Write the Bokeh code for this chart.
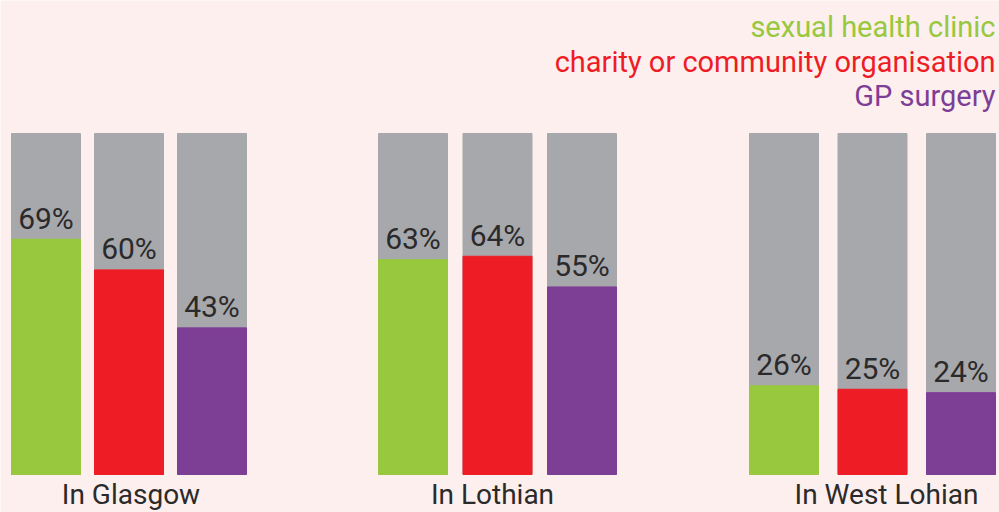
from bokeh.plotting import figure
from bokeh.models import Range1d, ColumnDataSource, Label
from bokeh.core.properties import value
from bokeh.embed import file_html
from bokeh.resources import INLINE

# ---- data ----
regions = ["In Glasgow", "In Lothian", "In West Lohian"]
services = ["sexual health clinic", "charity or community organisation", "GP surgery"]
clinic = [69, 63, 26]
charity = [60, 64, 25]
gp = [43, 55, 24]
total = 100

# ---- style / layout ----
colors = ["#97c83e", "#ee1c25", "#7d3e96"]
grey = "#a7a8ac"
bg = "#fdefee"
text_col = "#2b2a2a"
FONT = "Roboto"

W, H = 999, 512
zero_px = 38          # px from bottom of frame to value 0
px_per_unit = 3.41
group_left = [11, 378, 749]
group_step = [83, 84.5, 88.5]
bar_w = 69

y0 = -zero_px / px_per_unit
y1 = (H - zero_px) / px_per_unit

p = figure(width=W, height=H, x_range=Range1d(0, W), y_range=Range1d(y0, y1),
           output_backend="svg", toolbar_location=None, min_border=0,
           background_fill_color=bg, border_fill_color=bg, outline_line_color=None)
p.axis.visible = False
p.grid.visible = False

series = [clinic, charity, gp]
xs, vals, cols, labs = [], [], [], []
for g in range(len(regions)):
    for s in range(len(series)):
        xs.append(group_left[g] + s * group_step[g] + bar_w / 2)
        vals.append(series[s][g])
        cols.append(colors[s])
        labs.append(f"{series[s][g]}%")

src = ColumnDataSource(dict(x=xs, v=vals, c=cols, lab=labs, tot=[total] * len(xs)))
p.vbar(x="x", top="tot", bottom=0, width=bar_w, color=grey, source=src)
p.vbar(x="x", top="v", bottom=0, width=bar_w, color="c", source=src)
p.text(x="x", y="v", text="lab", source=src, text_align="center", text_baseline="alphabetic",
       y_offset=-21, text_font=value(FONT), text_font_size="30px", text_color=text_col)

label_shift = [2, -5, 14]
centers = [group_left[g] + group_step[g] + bar_w / 2 + label_shift[g] for g in range(len(regions))]
csrc = ColumnDataSource(dict(x=centers, y=[0] * len(regions), t=regions))
p.text(x="x", y="y", text="t", source=csrc, text_align="center", text_baseline="alphabetic",
       y_offset=20, text_font=value(FONT), text_font_size="28px", text_color=text_col)

legend_base = [486, 451, 417]
for name, col, yb in zip(services, colors, legend_base):
    p.add_layout(Label(x=995, y=yb, x_units="screen", y_units="screen", text=name,
                       text_align="right", text_baseline="alphabetic", text_color=col,
                       text_font=FONT, text_font_size="29px"))

open("out.html", "w").write(file_html(p, INLINE))
